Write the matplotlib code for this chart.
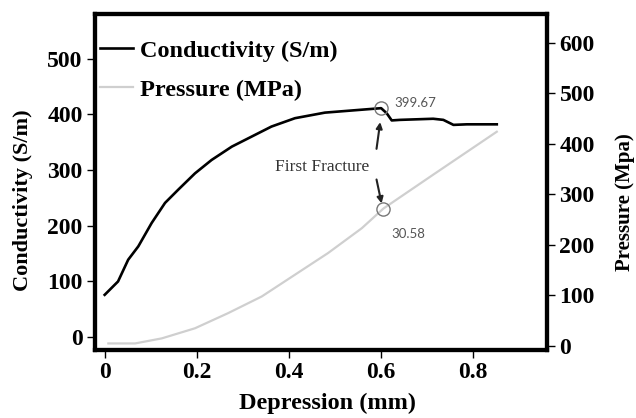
import matplotlib
matplotlib.use("Agg")
import matplotlib.pyplot as plt

# Data
cond_x = [0.000, 0.029, 0.051, 0.073, 0.102, 0.131, 0.160, 0.196, 0.232, 0.276,
          0.319, 0.362, 0.413, 0.478, 0.554, 0.600, 0.612, 0.623, 0.641, 0.713,
          0.735, 0.757, 0.786, 0.851]
cond_y = [76, 100, 139, 163, 205, 241, 265, 294, 318, 342,
          360, 378, 393, 403, 408, 411, 402, 389, 390, 392,
          390, 381, 382, 382]

pres_x = [0.008, 0.066, 0.124, 0.196, 0.268, 0.341, 0.413, 0.485, 0.558, 0.605,
          0.713, 0.851]
pres_y = [5, 5, 15, 35, 65, 98, 141, 184, 233, 272, 339, 424]

x_ticks = [0, 0.2, 0.4, 0.6, 0.8]
x_ticklabels = ["0", "0.2", "0.4", "0.6", "0.8"]
left_ticks = [0, 100, 200, 300, 400, 500]
right_ticks = [0, 100, 200, 300, 400, 500, 600]

peak_point = (0.600, 411)
peak_label = "399.67"
press_point = (0.605, 272)
press_label = "30.58"

plt.rcParams['font.family'] = ['Liberation Serif', 'DejaVu Serif']

fig = plt.figure(figsize=(6.36, 4.18), dpi=100)
ax = fig.add_axes([95/636, 1 - 350/418, 452/636, 336/418])
ax2 = ax.twinx()

l1, = ax.plot(cond_x, cond_y, color='black', lw=1.9, label='Conductivity (S/m)', zorder=3)
l2, = ax2.plot(pres_x, pres_y, color='#cfcfcf', lw=1.6, label='Pressure (MPa)', zorder=2)

ax.set_xlim(-0.021, 0.960)
ax.set_ylim(-23, 580)
ax2.set_ylim(-8, 657)

ax.set_xticks(x_ticks)
ax.set_xticklabels(x_ticklabels)
ax.set_yticks(left_ticks)
ax2.set_yticks(right_ticks)

for a in (ax, ax2):
    for s in a.spines.values():
        s.set_linewidth(3.0)
    a.tick_params(direction='out', length=6, width=1, pad=3, labelsize=17)
    for lab in a.get_xticklabels() + a.get_yticklabels():
        lab.set_fontweight('bold')

ax.set_xlabel('Depression (mm)', fontsize=17.5, fontweight='bold')
ax.set_ylabel('Conductivity (S/m)', fontsize=16, fontweight='bold')
ax2.set_ylabel('Pressure (Mpa)', fontsize=15, fontweight='bold', rotation=90)
ax.xaxis.set_label_coords(0.514, -0.128)
ax.yaxis.set_label_coords(-0.137, 0.445)
ax2.yaxis.set_label_coords(1.150, 0.439)

leg = ax.legend([l1, l2], [l1.get_label(), l2.get_label()], loc='upper left',
                bbox_to_anchor=(-0.010, 0.952), frameon=False, borderaxespad=0,
                handlelength=1.35, handletextpad=0.3, labelspacing=0.7,
                prop={'family': 'Liberation Serif', 'weight': 'bold', 'size': 17.5})

# Annotations
ax.plot([peak_point[0]], [peak_point[1]], marker='o', ms=9.5, mfc='none', mec='#777777', mew=1.0, zorder=4)
ax2.plot([press_point[0]], [press_point[1]], marker='o', ms=9.5, mfc='none', mec='#777777', mew=1.0, zorder=4)
ax.text(0.628, 421, peak_label, fontsize=9.5, color='#555555', family=['Lato', 'DejaVu Sans'],
        ha='left', va='center')
ax.text(0.623, 185, press_label, fontsize=9.5, color='#555555', family=['Lato', 'DejaVu Sans'],
        ha='left', va='center')
ax.text(0.473, 306, 'First Fracture', fontsize=12.5, color='#333333', ha='center', va='center')
ax.annotate('', xy=(0.598, 386), xytext=(0.590, 338),
            arrowprops=dict(arrowstyle='-|>', color='#222222', lw=1.5, mutation_scale=9,
                            shrinkA=0, shrinkB=0))
ax.annotate('', xy=(0.601, 240), xytext=(0.590, 283),
            arrowprops=dict(arrowstyle='-|>', color='#222222', lw=1.5, mutation_scale=9,
                            shrinkA=0, shrinkB=0))

fig.savefig('out.png', dpi=100)
